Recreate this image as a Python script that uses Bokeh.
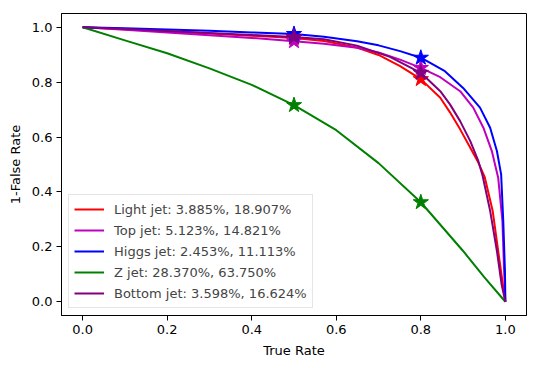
from bokeh.plotting import figure
from bokeh.models import Range1d, FixedTicker, PrintfTickFormatter, Legend, LegendItem
from bokeh.embed import file_html
from bokeh.resources import INLINE

# ---- data ----
labels = ["Light jet: 3.885%, 18.907%", "Top jet: 5.123%, 14.821%", "Higgs jet: 2.453%, 11.113%",
          "Z jet: 28.370%, 63.750%", "Bottom jet: 3.598%, 16.624%"]
colors = ["#ff0000", "#bf00bf", "#0000ff", "#008000", "#800080"]

light_x = [0.0, 0.1, 0.2, 0.3, 0.4, 0.5, 0.571, 0.649, 0.7, 0.751, 0.8, 0.846, 0.869, 0.893, 0.917,
           0.936, 0.951, 0.97, 0.983, 0.994, 1.0]
light_y = [1.0, 0.993, 0.985, 0.977, 0.969, 0.961, 0.950, 0.926, 0.899, 0.858, 0.811, 0.743, 0.69, 0.628, 0.561,
           0.507, 0.455, 0.331, 0.185, 0.064, 0.0]

top_x = [0.0, 0.1, 0.2, 0.3, 0.4, 0.5, 0.571, 0.649, 0.7, 0.751, 0.8, 0.846, 0.893, 0.924, 0.948,
         0.968, 0.983, 0.993, 0.997, 1.0]
top_y = [1.0, 0.991, 0.981, 0.971, 0.961, 0.949, 0.94, 0.925, 0.908, 0.882, 0.852, 0.818, 0.767, 0.707, 0.634,
         0.549, 0.452, 0.295, 0.113, 0.0]

higgs_x = [0.0, 0.1, 0.2, 0.3, 0.4, 0.5, 0.571, 0.649, 0.7, 0.751, 0.8, 0.857, 0.9, 0.94, 0.964,
           0.98, 0.99, 0.995, 0.999, 1.0]
higgs_y = [1.0, 0.996, 0.992, 0.987, 0.981, 0.975, 0.965, 0.949, 0.934, 0.913, 0.889, 0.84, 0.779, 0.707, 0.634,
           0.549, 0.464, 0.295, 0.113, 0.0]

z_x = [0.0, 0.1, 0.2, 0.3, 0.4, 0.5, 0.6, 0.7, 0.8, 0.9, 0.95, 1.0]
z_y = [1.0, 0.952, 0.905, 0.85, 0.79, 0.716, 0.625, 0.505, 0.3625, 0.185, 0.09, 0.0]

bottom_x = [0.0, 0.1, 0.2, 0.3, 0.4, 0.5, 0.571, 0.649, 0.727, 0.8, 0.846, 0.869, 0.893, 0.917,
            0.936, 0.946, 0.964, 0.98, 0.991, 1.0]
bottom_y = [1.0, 0.994, 0.986, 0.979, 0.972, 0.964, 0.956, 0.933, 0.892, 0.834, 0.767, 0.719, 0.658, 0.585,
            0.513, 0.46, 0.331, 0.185, 0.064, 0.0]

star_x = [0.5, 0.8]
light_star = [1 - 0.03885, 1 - 0.18907]
top_star = [1 - 0.05123, 1 - 0.14821]
higgs_star = [1 - 0.02453, 1 - 0.11113]
z_star = [1 - 0.28370, 1 - 0.63750]
bottom_star = [1 - 0.03598, 1 - 0.16624]

xs = [light_x, top_x, higgs_x, z_x, bottom_x]
ys = [light_y, top_y, higgs_y, z_y, bottom_y]
stars = [light_star, top_star, higgs_star, z_star, bottom_star]

ticks = [0.0, 0.2, 0.4, 0.6, 0.8, 1.0]

FONT = "DejaVu Sans"

p = figure(width=539, height=368, output_backend="svg", toolbar_location=None,
           x_range=Range1d(-0.05, 1.05), y_range=Range1d(-0.05, 1.05),
           min_border_left=61, min_border_right=13, min_border_top=13, min_border_bottom=53)
p.xgrid.visible = False
p.ygrid.visible = False
p.outline_line_color = "black"
p.outline_line_alpha = 1.0
p.outline_line_width = 1
p.background_fill_color = "white"
p.border_fill_color = "white"

for ax in (p.xaxis[0], p.yaxis[0]):
    ax.ticker = FixedTicker(ticks=ticks)
    ax.formatter = PrintfTickFormatter(format="%.1f")
    ax.minor_tick_line_color = None
    ax.major_tick_in = 0
    ax.major_tick_out = 5
    ax.major_label_text_font = FONT
    ax.major_label_text_font_size = "13px"
    ax.major_label_text_color = "black"
    ax.axis_label_text_font = FONT
    ax.axis_label_text_font_size = "13px"
    ax.axis_label_text_font_style = "normal"
    ax.axis_label_text_color = "black"
    ax.axis_line_color = "black"
    ax.major_tick_line_color = "black"

p.xaxis.axis_label = "True Rate"
p.yaxis.axis_label = "1-False Rate"
p.xaxis.major_label_standoff = 4
p.yaxis.major_label_standoff = 4
p.xaxis.axis_label_standoff = 6
p.yaxis.axis_label_standoff = 6

items = []
for x, y, s, c, lab in zip(xs, ys, stars, colors, labels):
    r = p.line(x, y, line_color=c, line_width=2, line_join="round")
    p.scatter(star_x, s, marker="star", size=16, fill_color=c, line_color=c)
    items.append(LegendItem(label=lab, renderers=[r]))

legend = Legend(items=items, location="bottom_left", margin=7, padding=5,
                spacing=3, glyph_width=30, glyph_height=18, label_height=18,
                label_standoff=10, label_text_font=FONT, label_text_font_size="13px",
                border_line_color="#cccccc", border_line_width=1,
                background_fill_color="white", background_fill_alpha=0.8)
p.add_layout(legend)

open("out.html", "w").write(file_html(p, INLINE))
